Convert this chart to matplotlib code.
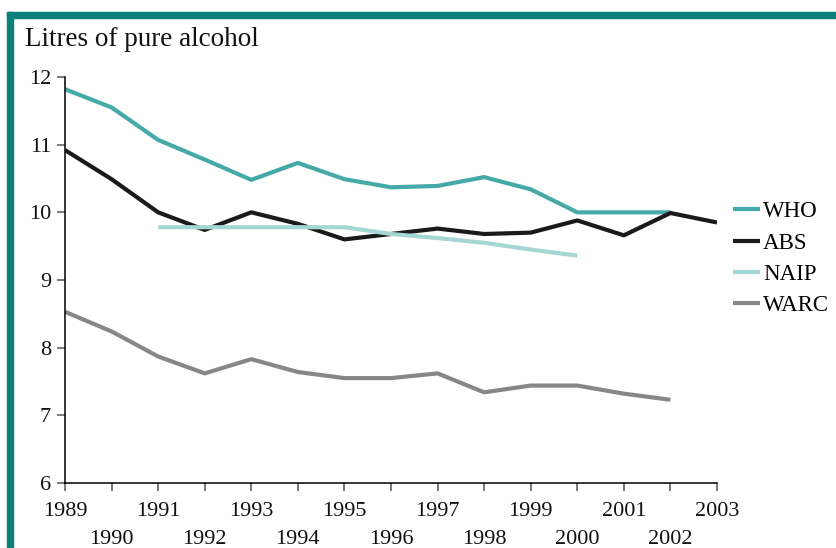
import matplotlib.pyplot as plt
from matplotlib.patches import Rectangle

plt.rcParams['font.family'] = ['Liberation Serif', 'DejaVu Serif']

years = list(range(1989, 2004))

who_years = list(range(1989, 2003))
who = [11.82, 11.55, 11.07, 10.78, 10.48, 10.73, 10.49, 10.37, 10.39, 10.52, 10.34, 10.0, 10.0, 10.0]

abs_years = list(range(1989, 2004))
abs_vals = [10.92, 10.49, 10.0, 9.74, 10.0, 9.83, 9.6, 9.68, 9.76, 9.68, 9.7, 9.88, 9.66, 9.99, 9.85]

naip_years = list(range(1991, 2001))
naip = [9.78, 9.78, 9.78, 9.78, 9.78, 9.68, 9.62, 9.55, 9.45, 9.36]

warc_years = list(range(1989, 2003))
warc = [8.53, 8.24, 7.87, 7.62, 7.83, 7.64, 7.55, 7.55, 7.62, 7.34, 7.44, 7.44, 7.32, 7.23]

fig = plt.figure(figsize=(8.36, 5.48), dpi=100)
ax = fig.add_axes([65/836, 1-483/548, (717-65)/836, (483-77)/548])

# teal frame at the top and left
fig.patches.append(Rectangle((7/836, 0), 6/836, 1-12/548, transform=fig.transFigure,
                             color='#0b7f7a', zorder=0))
fig.patches.append(Rectangle((7/836, 1-18/548), 1-7/836, 6/548, transform=fig.transFigure,
                             color='#0b7f7a', zorder=0))

ax.plot(who_years, who, color='#45a9a7', lw=3, solid_capstyle='butt', label='WHO')
ax.plot(abs_years, abs_vals, color='#1a1a1a', lw=3, solid_capstyle='butt', label='ABS')
ax.plot(naip_years, naip, color='#a4d6d3', lw=3, solid_capstyle='butt', label='NAIP')
ax.plot(warc_years, warc, color='#878787', lw=3, solid_capstyle='butt', label='WARC')

ax.set_xlim(1989, 2003)
ax.set_ylim(6, 12)

ax.spines['top'].set_visible(False)
ax.spines['right'].set_visible(False)
ax.spines['left'].set_linewidth(1.1)
ax.spines['bottom'].set_linewidth(1.1)

ax.set_yticks(range(6, 13))
ax.set_xticks(years)
ax.set_xticklabels([str(y) if y % 2 == 1 else '\n' + str(y) for y in years],
                   linespacing=1.62)
ax.tick_params(axis='both', direction='out', length=6, width=1.1,
               colors='#555555', labelcolor='#111111', labelsize=16)
ax.tick_params(axis='x', pad=8)
ax.tick_params(axis='y', pad=4)

fig.text(25/836, 1-40/548, 'Litres of pure alcohol', fontsize=19.5, color='#111111',
         va='center', ha='left')

ax.legend(loc='center left', bbox_to_anchor=(1.01, 0.552), frameon=False,
          fontsize=16.5, handlelength=1.2, handletextpad=0.12, labelspacing=0.45,
          borderaxespad=0)

fig.savefig('out.png', dpi=100)
